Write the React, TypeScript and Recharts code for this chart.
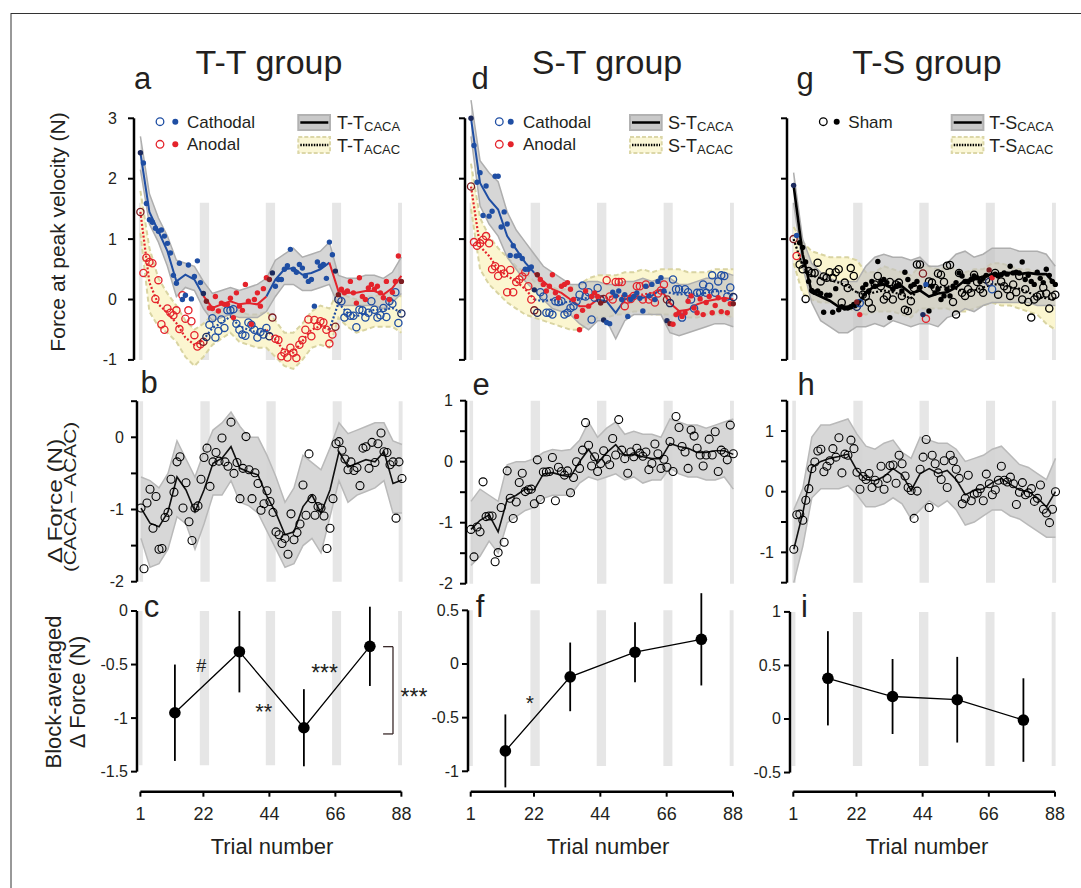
import React from 'react';
import { ComposedChart, Scatter, Line, Area, XAxis, YAxis, ReferenceArea, ReferenceLine, ErrorBar } from 'recharts';

const FONT = 'Arial, "Liberation Sans", Helvetica, sans-serif';

// trial grid
const trials = Array.from({ length: 88 }, (_, i) => i + 1);
const sampleTrials = [1, 4, 7, 10, 13, 16, 19, 22, 25, 28, 31, 34, 37, 40, 43, 46, 49, 52, 55, 58, 61, 64, 67, 70, 73, 76, 79, 82, 85, 88];
const restBars = [[0.5, 1.7], [20.8, 23.9], [42.8, 45.9], [64.9, 67.9], [86.9, 88.2]];
const segBounds = [1, 22, 43, 64, 88];
const darkTrials = [1, 22, 23, 44, 45, 66, 67, 88];
const shamColorTrials = [1, 2, 22, 23, 44, 45, 66, 67];
const xTicks = [1, 22, 44, 66, 88];
const blockTrials = [12.5, 34, 55.5, 77.5];

// ---- panel a (T-T) ----
const ttCacaPts = [
  2.43, 2.26, 1.59, 1.32, 1.28, 1.18, 1.13, 1.15, 1.05, 0.93, 0.77, 0.40, 0.27, 0.60, 0.00, 0.07, 0.57, 0.01, 0.38, 0.64, 0.28, 0.10,
  -0.03, -0.14, -0.15, 0.05, -0.19, -0.06, -0.08, -0.08, 0.02, -0.30, 0.11, -0.11, -0.18, 0.25, -0.03, -0.41, 0.00, 0.11, -0.11, 0.18, 0.36, 0.33,
  0.44, 0.22, 0.33, 0.33, 0.50, 0.56, 0.83, 0.50, 0.45, 0.58, 0.52, 0.39, 0.30, 0.33, -0.11, 0.62, 0.55, 0.58, 0.35, 0.95, 0.74, 0.47,
  0.08, 0.17, 0.11, 0.14, 0.30, 0.11, -0.06, 0.36, 0.05, 0.00, 0.19, 0.25, 0.17, 0.22, 0.11, 0.03, 0.30, 0.00, 0.12, 0.30, 0.72, 0.30,
];
const ttAcacPts = [
  1.45, 0.44, 0.69, 0.62, 0.60, 0.01, 0.32, -0.41, -0.50, -0.15, -0.22, -0.26, -0.18, -0.49, 0.07, -0.32, -0.18, -0.36, -0.59, -0.78, -0.74, -0.70,
  -0.62, -0.42, -0.31, -0.63, -0.52, -0.33, -0.47, -0.18, -0.18, -0.16, -0.40, -0.50, -0.58, -0.60, -0.38, -0.42, -0.50, -0.63, -0.54, -0.58, -0.47, -0.61,
  -0.30, -0.65, -0.67, -0.94, -0.88, -0.96, -0.80, -0.88, -0.97, -0.75, -0.67, -0.50, -0.33, -0.61, -0.34, -0.44, -0.36, -0.38, -0.50, -0.73, -0.58, -0.45,
  0.00, -0.03, -0.30, -0.22, -0.27, -0.27, -0.46, -0.17, -0.18, -0.30, -0.22, -0.03, -0.17, -0.30, -0.26, -0.14, -0.29, -0.03, -0.07, 0.12, -0.39, -0.23,
];
const ttCacaLine = [2.43, 1.45, 1.13, 0.80, 0.30, 0.41, 0.33, 0.06, -0.14, -0.08, -0.03, -0.08, -0.06, -0.08, 0.05, 0.33, 0.50, 0.52, 0.41, 0.44, 0.50, 0.61, 0.14, 0.11, 0.11, 0.14, 0.14, 0.08, 0.19, 0.39];
const ttAcacLine = [1.45, 0.28, -0.08, -0.22, -0.39, -0.63, -0.75, -0.67, -0.47, -0.39, -0.28, -0.44, -0.50, -0.55, -0.50, -0.66, -0.86, -0.88, -0.69, -0.50, -0.44, -0.50, -0.06, -0.22, -0.28, -0.22, -0.17, -0.17, -0.14, -0.22];
const ttCacaHi = [2.70, 1.75, 1.35, 1.05, 0.65, 0.60, 0.55, 0.30, 0.10, 0.15, 0.20, 0.15, 0.20, 0.25, 0.35, 0.65, 0.75, 0.85, 0.70, 0.75, 0.80, 0.95, 0.40, 0.35, 0.35, 0.40, 0.40, 0.35, 0.45, 0.70];
const ttCacaLo = [2.15, 1.25, 0.95, 0.55, 0.05, 0.20, 0.15, -0.15, -0.35, -0.30, -0.25, -0.30, -0.30, -0.30, -0.20, 0.05, 0.25, 0.25, 0.15, 0.15, 0.20, 0.25, -0.10, -0.10, -0.10, -0.10, -0.10, -0.15, -0.05, 0.10];
const ttAcacHi = [1.80, 0.85, 0.35, 0.10, -0.10, -0.35, -0.50, -0.40, -0.25, -0.15, -0.05, -0.20, -0.25, -0.25, -0.20, -0.35, -0.55, -0.55, -0.40, -0.20, -0.10, -0.15, 0.15, 0.05, 0.00, 0.05, 0.05, 0.10, 0.10, 0.05];
const ttAcacLo = [1.10, -0.20, -0.45, -0.55, -0.70, -0.95, -1.10, -0.95, -0.75, -0.65, -0.55, -0.70, -0.75, -0.80, -0.80, -0.95, -1.10, -1.15, -1.00, -0.80, -0.75, -0.80, -0.30, -0.45, -0.55, -0.50, -0.45, -0.45, -0.45, -0.55];

// ---- panel d (S-T) ----
const stCacaPts = [
  3.00, 2.55, 1.94, 2.10, 1.39, 1.88, 1.38, 1.46, 2.04, 2.04, 1.20, 1.45, 1.25, 0.73, 0.89, 0.72, 0.73, 0.68, 0.50, 0.50, 0.54, 0.16,
  0.41, 0.33, 0.25, 0.14, 0.22, 0.41, 0.11, 0.03, 0.22, 0.25, 0.28, 0.17, 0.00, -0.28, -0.50, -0.18, 0.14, -0.11, 0.05, 0.11, 0.05, -0.06,
  -0.34, -0.38, -0.40, 0.12, 0.06, 0.14, 0.00, 0.08, -0.28, 0.00, 0.05, 0.11, 0.02, -0.19, 0.22, 0.06, 0.25, 0.00, 0.30, 0.36, 0.14, -0.35,
  -0.40, -0.41, -0.25, -0.22, -0.28, -0.22, -0.03, 0.06, -0.14, -0.22, 0.01, -0.25, -0.05, 0.05, -0.22, -0.10, 0.03, -0.20, 0.00, -0.22, -0.07, -0.07,
];
const stAcacPts = [
  1.87, 0.95, 0.89, 0.93, 0.99, 1.05, 0.93, 0.50, 0.55, 0.39, 0.50, 0.43, 0.12, 0.49, 0.12, 0.29, 0.33, 0.38, 0.45, 0.22, 0.00, -0.18,
  -0.22, 0.12, 0.05, -0.22, -0.22, -0.25, -0.03, -0.04, -0.03, -0.25, -0.22, -0.14, -0.11, -0.03, 0.08, 0.23, 0.05, 0.12, -0.33, 0.03, 0.19, 0.00,
  0.01, 0.32, 0.05, 0.00, 0.29, 0.29, 0.29, -0.11, 0.00, 0.01, 0.06, 0.22, 0.22, 0.00, 0.25, 0.00, 0.05, -0.05, 0.10, 0.15, 0.25, 0.00,
  -0.06, 0.33, 0.17, 0.17, -0.30, 0.17, 0.12, 0.00, -0.15, 0.11, 0.11, 0.25, 0.11, 0.21, 0.40, 0.11, 0.30, 0.40, 0.39, 0.05, 0.20, 0.04,
];
const stCacaLine = [3.00, 1.93, 1.66, 1.49, 1.05, 0.83, 0.61, 0.44, 0.30, 0.17, 0.11, 0.00, -0.11, -0.11, 0.00, -0.03, -0.22, 0.00, 0.06, 0.03, 0.06, 0.17, -0.06, -0.19, -0.17, -0.08, -0.03, 0.00, 0.03, 0.00];
const stAcacLine = [1.87, 0.88, 0.72, 0.50, 0.39, 0.30, 0.17, 0.00, -0.03, 0.00, -0.06, -0.03, 0.00, 0.03, 0.06, 0.03, 0.06, 0.06, 0.08, 0.08, 0.11, 0.14, 0.11, 0.08, 0.11, 0.08, 0.11, 0.14, 0.14, 0.06];
const stCacaHi = [3.30, 2.30, 2.10, 1.95, 1.45, 1.15, 0.95, 0.75, 0.55, 0.45, 0.35, 0.25, 0.25, 0.30, 0.30, 0.25, 0.25, 0.30, 0.30, 0.35, 0.30, 0.35, 0.35, 0.25, 0.25, 0.30, 0.35, 0.35, 0.45, 0.40];
const stCacaLo = [2.70, 1.55, 1.25, 1.05, 0.70, 0.50, 0.30, 0.15, 0.00, -0.15, -0.20, -0.25, -0.40, -0.50, -0.35, -0.35, -0.65, -0.35, -0.25, -0.25, -0.25, -0.25, -0.55, -0.60, -0.55, -0.50, -0.45, -0.40, -0.40, -0.45];
const stAcacHi = [2.25, 1.35, 1.05, 0.85, 0.70, 0.55, 0.45, 0.30, 0.25, 0.20, 0.15, 0.20, 0.25, 0.35, 0.40, 0.40, 0.40, 0.45, 0.45, 0.50, 0.45, 0.50, 0.50, 0.50, 0.45, 0.45, 0.45, 0.50, 0.50, 0.50];
const stAcacLo = [1.50, 0.50, 0.25, 0.10, -0.05, -0.15, -0.25, -0.30, -0.35, -0.40, -0.45, -0.50, -0.50, -0.40, -0.30, -0.30, -0.25, -0.25, -0.20, -0.20, -0.25, -0.25, -0.25, -0.30, -0.30, -0.30, -0.25, -0.25, -0.25, -0.30];

// ---- panel g (T-S) ----
const tsCacaPts = [
  1.89, 1.06, 0.94, 0.86, 0.62, 0.30, 0.15, 0.12, 0.14, 0.10, -0.21, 0.07, 0.07, -0.21, 0.18, -0.17, -0.12, -0.14, -0.14, -0.12, -0.08, -0.04,
  -0.25, 0.19, 0.25, 0.14, 0.30, 0.22, 0.63, 0.30, 0.33, 0.28, -0.30, 0.17, 0.22, 0.25, 0.14, 0.45, 0.33, 0.22, 0.25, 0.30, 0.20, -0.25,
  0.25, -0.19, 0.22, 0.11, 0.17, 0.00, 0.06, 0.17, 0.06, 0.22, 0.28, 0.44, 0.39, 0.30, 0.29, 0.33, 0.39, 0.36, 0.30, 0.35, 0.40, 0.49,
  0.36, 0.42, 0.39, 0.41, 0.44, 0.42, 0.55, 0.44, 0.45, 0.44, 0.62, 0.33, 0.40, 0.30, 0.25, 0.45, 0.35, 0.28, 0.50, 0.40, 0.30, 0.25,
];
const tsAcacPts = [
  1.00, 0.72, 0.58, 0.50, 0.01, 0.47, 0.44, 0.44, 0.61, 0.30, 0.38, 0.36, 0.45, 0.36, 0.45, 0.50, -0.05, 0.28, 0.19, 0.52, 0.39, -0.12,
  -0.06, 0.08, 0.05, -0.05, -0.15, 0.25, 0.39, 0.22, 0.00, 0.06, 0.29, 0.00, 0.25, 0.28, 0.06, -0.17, -0.19, -0.03, 0.19, 0.58, 0.58, 0.43,
  -0.32, 0.30, 0.28, 0.19, 0.43, 0.41, 0.29, 0.56, 0.57, -0.04, -0.25, 0.44, 0.11, 0.06, 0.17, 0.11, 0.41, 0.29, 0.17, 0.11, 0.33, 0.29,
  0.17, 0.44, 0.08, 0.30, 0.22, 0.17, 0.06, 0.25, 0.12, 0.39, 0.00, 0.17, -0.04, -0.30, 0.00, 0.05, 0.08, 0.20, 0.10, -0.15, 0.05, 0.08,
];
const tsCacaLine = [1.89, 0.75, 0.12, 0.05, -0.02, -0.12, -0.15, -0.12, 0.12, 0.22, 0.25, 0.18, 0.22, 0.10, 0.15, 0.05, 0.10, 0.12, 0.20, 0.32, 0.33, 0.38, 0.42, 0.42, 0.44, 0.42, 0.44, 0.42, 0.42, 0.25];
const tsAcacLine = [1.00, 0.55, 0.40, 0.35, 0.32, 0.28, 0.22, 0.12, 0.08, 0.12, 0.15, 0.12, 0.08, 0.02, 0.20, 0.22, 0.20, 0.22, 0.18, 0.12, 0.15, 0.20, 0.25, 0.25, 0.20, 0.18, 0.12, 0.05, 0.02, 0.00];
const tsCacaHi = [2.10, 1.00, 0.60, 0.45, 0.35, 0.30, 0.30, 0.30, 0.55, 0.70, 0.75, 0.70, 0.70, 0.65, 0.70, 0.55, 0.55, 0.60, 0.75, 0.80, 0.70, 0.75, 0.85, 0.85, 0.85, 0.80, 0.80, 0.80, 0.75, 0.55];
const tsCacaLo = [1.60, 0.55, -0.05, -0.35, -0.45, -0.55, -0.55, -0.45, -0.45, -0.40, -0.45, -0.35, -0.40, -0.45, -0.40, -0.40, -0.45, -0.30, -0.25, -0.15, -0.20, -0.10, -0.05, -0.05, -0.05, -0.05, -0.05, -0.10, -0.10, -0.10];
const tsAcacHi = [1.20, 0.95, 0.80, 0.75, 0.70, 0.70, 0.70, 0.65, 0.45, 0.45, 0.55, 0.50, 0.45, 0.40, 0.55, 0.55, 0.50, 0.55, 0.50, 0.45, 0.50, 0.50, 0.60, 0.60, 0.55, 0.50, 0.50, 0.45, 0.35, 0.30];
const tsAcacLo = [0.60, 0.10, 0.00, -0.05, -0.05, -0.10, -0.15, -0.20, -0.25, -0.20, -0.20, -0.20, -0.25, -0.30, -0.15, -0.15, -0.15, -0.15, -0.20, -0.20, -0.15, -0.10, -0.05, -0.10, -0.10, -0.15, -0.20, -0.25, -0.40, -0.50];

// ---- row b/e/h : delta force ----
const ttDeltaPts = [
  -0.98, -1.82, -0.91, -0.72, -1.26, -0.82, -1.55, -1.54, -1.11, -1.04,
  -0.58, -0.76, -0.34, -0.27, -0.98, -0.63, -1.17, -1.43, -0.98, -0.95,
  -0.58, -0.28, -0.15, -0.68, -0.34, -0.21, -0.33, -0.01, -0.34, -0.40,
  0.21, -0.50, -0.35, -0.85, -0.43, 0.01, -0.45, -0.85, -0.49, -0.64,
  -1.01, -0.92, -0.74, -0.89, -1.04, -1.31, -1.35, -1.47, -1.40, -1.62,
  -1.06, -1.42, -1.32, -1.20, -0.66, -1.08, -0.23, -0.85, -1.08, -0.96,
  -0.98, -1.09, -1.54, -1.26, -0.85, -0.09, -0.06, -0.18, -0.30, -0.45,
  -0.34, -0.46, -0.42, -0.67, -0.15, -0.13, -0.43, -0.07, -0.35, -0.09,
  0.06, -0.20, -0.21, -0.38, -0.34, -1.12, -0.34, -0.57,
];
const ttDeltaLine = [-0.98, -1.19, -1.24, -1.03, -0.55, -0.73, -1.03, -0.73, -0.36, -0.29, -0.13, -0.43, -0.48, -0.52, -0.82, -1.05, -1.35, -1.31, -0.96, -0.80, -1.05, -0.73, -0.20, -0.41, -0.36, -0.31, -0.34, -0.20, -0.64, -0.59];
const ttDeltaHi = [-0.55, -0.60, -0.70, -0.50, -0.05, -0.30, -0.55, -0.20, 0.10, 0.20, 0.35, 0.15, 0.00, 0.00, -0.25, -0.55, -0.90, -0.70, -0.25, -0.35, -0.45, -0.15, 0.20, 0.05, 0.10, 0.15, 0.20, 0.20, -0.05, -0.10];
const ttDeltaLo = [-1.40, -1.80, -1.75, -1.55, -1.10, -1.20, -1.55, -1.20, -0.80, -0.80, -0.60, -0.90, -0.95, -1.05, -1.30, -1.55, -1.80, -1.75, -1.50, -1.40, -1.60, -1.10, -0.60, -0.90, -0.80, -0.75, -0.70, -0.60, -1.05, -1.05];

const stDeltaPts = [
  -1.11, -1.56, -1.07, -1.15, -0.33, -0.90, -0.89, -0.89, -1.64, -1.49,
  -0.75, -1.32, -0.15, -0.60, -0.93, -0.66, -0.34, -0.19, -0.49, -0.46,
  -0.45, -0.69, 0.03, -0.62, -0.17, -0.17, -0.16, 0.07, -0.64, -0.09,
  -0.16, -0.22, -0.15, -0.51, -0.26, 0.00, -0.11, 0.19, 0.64, 0.27,
  -0.07, 0.08, -0.16, -0.03, 0.18, 0.04, -0.05, 0.38, 0.11, 0.69,
  0.19, 0.05, -0.19, 0.16, 0.08, 0.22, 0.14, 0.09, 0.16, -0.13,
  -0.03, 0.29, 0.13, -0.11, 0.04, -0.09, 0.33, -0.16, 0.74, 0.56,
  0.25, 0.16, -0.11, 0.52, 0.42, 0.22, 0.11, -0.07, 0.11, 0.37,
  0.11, 0.49, -0.16, 0.19, 0.15, 0.03, 0.60, 0.13,
];
const stDeltaLine = [-1.11, -0.96, -0.87, -1.15, -0.62, -0.55, -0.45, -0.46, -0.20, -0.18, -0.22, -0.25, 0.00, 0.20, -0.02, 0.15, 0.28, 0.10, 0.12, 0.08, 0.05, 0.05, 0.30, 0.25, 0.22, 0.15, 0.15, 0.18, 0.18, 0.12];
const stDeltaHi = [-0.65, -0.45, -0.55, -0.65, -0.05, 0.00, 0.00, 0.05, 0.15, 0.20, 0.18, 0.20, 0.35, 0.65, 0.40, 0.55, 0.65, 0.45, 0.50, 0.45, 0.45, 0.40, 0.70, 0.65, 0.60, 0.60, 0.55, 0.60, 0.65, 0.70];
const stDeltaLo = [-1.70, -1.55, -1.30, -1.50, -1.00, -0.90, -0.80, -0.75, -0.60, -0.55, -0.55, -0.55, -0.35, -0.25, -0.30, -0.25, -0.20, -0.30, -0.25, -0.35, -0.30, -0.30, -0.10, -0.20, -0.25, -0.25, -0.30, -0.30, -0.25, -0.45];

const tsDeltaPts = [
  -0.95, -0.38, -0.37, -0.47, -0.14, 0.05, 0.38, 0.49, 0.67, 0.70,
  0.33, 0.42, 0.51, 0.71, 0.57, 0.89, 0.31, 0.62, 0.60, 0.85,
  0.71, 0.32, 0.04, 0.25, 0.20, 0.30, 0.07, 0.19, 0.14, 0.42,
  0.04, 0.22, 0.43, 0.44, 0.14, 0.60, 0.46, 0.26, 0.07, 0.02,
  -0.44, 0.01, 0.37, 0.57, 0.86, -0.26, 0.60, 0.46, 0.31, 0.20,
  0.51, 0.07, 0.60, 0.51, 0.37, 0.22, -0.20, -0.11, 0.27, -0.15,
  -0.04, -0.02, 0.05, -0.15, 0.29, 0.13, -0.05, 0.03, 0.19, 0.42,
  0.19, 0.16, 0.24, 0.13, -0.21, -0.01, 0.15, -0.05, -0.02, 0.05,
  -0.16, -0.11, 0.11, -0.29, -0.35, -0.51, -0.29, 0.00,
];
const tsDeltaLine = [-0.95, -0.35, 0.40, 0.50, 0.55, 0.58, 0.62, 0.35, 0.20, 0.18, 0.25, 0.38, 0.28, 0.02, 0.30, 0.38, 0.30, 0.35, 0.20, -0.05, 0.02, 0.05, 0.15, 0.22, 0.12, 0.03, 0.00, -0.10, -0.25, 0.00];
const tsDeltaHi = [-0.30, 0.05, 0.90, 1.10, 1.10, 1.15, 1.20, 0.95, 0.75, 0.70, 0.80, 0.85, 0.65, 0.55, 0.90, 0.85, 0.80, 0.80, 0.70, 0.50, 0.55, 0.60, 0.70, 0.75, 0.60, 0.45, 0.40, 0.30, 0.20, 0.55];
const tsDeltaLo = [-1.50, -0.90, -0.10, 0.05, 0.05, 0.05, 0.10, -0.05, -0.25, -0.25, -0.20, -0.10, -0.20, -0.45, -0.30, -0.15, -0.25, -0.15, -0.30, -0.55, -0.50, -0.40, -0.30, -0.30, -0.40, -0.45, -0.55, -0.65, -0.75, -0.75];

// ---- row c/f/i : block averages ----
const ttBlockMean = [-0.95, -0.38, -1.09, -0.33];
const ttBlockErr = [0.45, 0.38, 0.36, 0.37];
const stBlockMean = [-0.81, -0.12, 0.11, 0.23];
const stBlockErr = [0.34, 0.32, 0.28, 0.43];
const tsBlockMean = [0.38, 0.21, 0.18, -0.01];
const tsBlockErr = [0.44, 0.35, 0.40, 0.39];

// colours
const BLUE = '#1f4ea3';
const RED = '#e4232b';
const NAVY = '#1c2a5e';
const MAROON = '#7d1d22';
const INK = '#231f20';
const TICK_FS = 16;

const blockOf = (t: number) => Math.min(3, Math.floor((t - 1) / 22));
const stimColor = (group: string) => (t: number) => {
  const b = blockOf(t);
  const cath = group === 'caca' ? b % 2 === 0 : b % 2 === 1;
  const dark = darkTrials.includes(t);
  return cath ? (dark ? NAVY : BLUE) : (dark ? MAROON : RED);
};
const shamColor = (group: string) => (t: number) => {
  const idx = shamColorTrials.indexOf(t);
  if (idx < 0) return '#000';
  const pair = Math.floor(idx / 2);
  const cath = group === 'caca' ? pair % 2 === 0 : pair % 2 === 1;
  const dark = idx % 2 === 0;
  return cath ? (dark ? NAVY : BLUE) : (dark ? MAROON : RED);
};
const segColor = (group: string, b: number) => {
  const cath = group === 'caca' ? b % 2 === 0 : b % 2 === 1;
  return cath ? BLUE : RED;
};

const toPts = (vals: number[], colorOf: (t: number) => string) => vals.map((v, i) => ({ t: trials[i], v, c: colorOf(trials[i]) }));
const toLine = (vals: number[]) => vals.map((v, i) => ({ t: sampleTrials[i], v }));
const toBand = (lo: number[], hi: number[]) => lo.map((l, i) => ({ t: sampleTrials[i], band: [l, hi[i]] }));
const segment = (line: { t: number; v: number }[], b: number) => line.filter((p) => p.t >= segBounds[b] && p.t <= segBounds[b + 1]);
const toBlocks = (mean: number[], err: number[]) => mean.map((v, i) => ({ t: blockTrials[i], v, err: err[i] }));

const openDot = (r: number, sw: number) => (p: any) => (
  <circle cx={p.cx} cy={p.cy} r={r} fill="none" stroke={p.payload.c || '#000'} strokeWidth={sw} />
);
const fillDot = (r: number) => (p: any) => <circle cx={p.cx} cy={p.cy} r={r} fill={p.payload.c || '#000'} />;
const annText = (p: any) => (
  <text x={p.cx} y={p.cy} textAnchor="middle" dominantBaseline="central" fontSize={p.payload.size} fontFamily={FONT} fill={INK}>
    {p.payload.txt}
  </text>
);

const xTick = (p: any) => (
  <text x={p.x} y={p.y} textAnchor="middle" dominantBaseline="hanging" style={{ fontSize: '18px', fontFamily: FONT }} fill={INK}>
    {p.payload.value}
  </text>
);
const yTick = (fmt: (v: number) => string) => (p: any) => (
  <text x={p.x} y={p.y} textAnchor="end" dominantBaseline="central" style={{ fontSize: `${TICK_FS}px`, fontFamily: FONT }} fill={INK}>
    {fmt(p.payload.value)}
  </text>
);

const COLS = [
  { c0: 140.7, s: 3.0 },
  { c0: 471.0, s: 3.015 },
  { c0: 793.3, s: 3.008 },
];

const YW = 50;
const XH = 38;

type Geom = { axisX: number; right: number; top: number; bottom: number; vRef: number; pRef: number; k: number; c0: number; s: number; gap: number };

const intFmt = (v: number) => (Number.isInteger(v) ? String(v) : '');
const allFmt = (v: number) => String(v);
const noFmt = () => '';

function Panel({ g, yTicks, yFmt, axis, bars, showX, children }: any) {
  const geo: Geom = g;
  const xDom = [1 + (geo.axisX - geo.c0) / geo.s, 1 + (geo.right - geo.c0) / geo.s];
  const yDom = [geo.vRef - (geo.bottom - geo.pRef) / geo.k, geo.vRef + (geo.pRef - geo.top) / geo.k];
  const xh = showX ? XH : 0;
  const width = YW + geo.right - geo.axisX;
  const height = geo.bottom - geo.top + xh;
  return (
    <div style={{ position: 'absolute', left: geo.axisX - YW, top: geo.top }}>
      <ComposedChart width={width} height={height} margin={{ top: 0, right: 0, bottom: 0, left: 0 }}>
        <XAxis
          type="number"
          dataKey="t"
          domain={xDom}
          allowDataOverflow
          hide={!showX}
          ticks={xTicks}
          interval={0}
          axisLine={false}
          tickLine={{ stroke: '#000', strokeWidth: 2 }}
          tickSize={5}
          tickMargin={11}
          height={xh}
          tick={xTick}
        />
        <YAxis
          type="number"
          domain={yDom}
          allowDataOverflow
          ticks={yTicks}
          interval={0}
          axisLine={false}
          tickLine={{ stroke: '#000', strokeWidth: 2 }}
          tickSize={6}
          tickMargin={geo.gap}
          width={YW}
          tick={yTick(yFmt)}
        />
        {restBars.map(([a, b], i) => (
          <ReferenceArea key={'rb' + i} x1={a} x2={b} y1={bars[0]} y2={bars[1]} fill="#e6e6e6" fillOpacity={1} stroke="none" ifOverflow="hidden" />
        ))}
        {children}
        <ReferenceLine segment={[{ x: xDom[0], y: axis[0] }, { x: xDom[0], y: axis[1] }]} stroke="#000" strokeWidth={2.5} ifOverflow="visible" />
        {showX && (
          <ReferenceLine segment={[{ x: 1, y: yDom[0] }, { x: 88, y: yDom[0] }]} stroke="#000" strokeWidth={2.5} ifOverflow="visible" />
        )}
      </ComposedChart>
    </div>
  );
}

function forcePanel(key: string, g: any, showLabels: boolean, d: any, sham: boolean) {
  const cacaLine = toLine(d.cacaLine);
  const acacLine = toLine(d.acacLine);
  const colorCaca = sham ? shamColor('caca') : stimColor('caca');
  const colorAcac = sham ? shamColor('acac') : stimColor('acac');
  return (
    <Panel key={key} g={g} yTicks={[-1, 0, 1, 2, 3]} yFmt={showLabels ? allFmt : noFmt} axis={[-1, 3]} bars={[-1, 1.6]} showX={false}>
      <Area data={toBand(d.acacLo, d.acacHi)} dataKey="band" type="linear" fill="#fbf6d0" fillOpacity={1} stroke="#d9d4a2" strokeWidth={2} strokeDasharray="5 3" isAnimationActive={false} />
      <Area data={toBand(d.cacaLo, d.cacaHi)} dataKey="band" type="linear" fill="#c2c2c2" fillOpacity={0.68} stroke="#aeaeae" strokeWidth={1.5} isAnimationActive={false} />
      <Scatter data={toPts(d.acacPts, colorAcac)} dataKey="v" shape={openDot(3.6, 1.3)} isAnimationActive={false} />
      <Scatter data={toPts(d.cacaPts, colorCaca)} dataKey="v" shape={fillDot(2.7)} isAnimationActive={false} />
      {[0, 1, 2, 3].map((b) => (
        <Line key={'ac' + b} data={segment(acacLine, b)} dataKey="v" type="linear" stroke={sham ? '#000' : segColor('acac', b)} strokeWidth={2.2} strokeDasharray="2 2" dot={false} isAnimationActive={false} />
      ))}
      {[0, 1, 2, 3].map((b) => (
        <Line key={'ca' + b} data={segment(cacaLine, b)} dataKey="v" type="linear" stroke={sham ? '#000' : segColor('caca', b)} strokeWidth={sham ? 2.6 : 2} dot={false} isAnimationActive={false} />
      ))}
    </Panel>
  );
}

function deltaPanel(key: string, g: any, yTicks: number[], axis: number[], pts: number[], line: number[], lo: number[], hi: number[]) {
  return (
    <Panel key={key} g={g} yTicks={yTicks} yFmt={intFmt} axis={axis} bars={axis} showX={false}>
      <Area data={toBand(lo, hi)} dataKey="band" type="linear" fill="#d3d3d3" fillOpacity={0.9} stroke="#b9b9b9" strokeWidth={1.5} isAnimationActive={false} />
      <Line data={toLine(line)} dataKey="v" type="linear" stroke="#111" strokeWidth={1.6} dot={false} isAnimationActive={false} />
      <Scatter data={toPts(pts, () => '#000')} dataKey="v" shape={openDot(4, 1.1)} isAnimationActive={false} />
    </Panel>
  );
}

function blockPanel(key: string, g: any, yTicks: number[], axis: number[], bars: number[], mean: number[], err: number[], extra?: any) {
  return (
    <Panel key={key} g={g} yTicks={yTicks} yFmt={allFmt} axis={axis} bars={bars} showX>
      <Line data={toBlocks(mean, err)} dataKey="v" type="linear" stroke="#000" strokeWidth={1.3} dot={{ r: 5.8, fill: '#000', stroke: '#000', strokeWidth: 0 }} isAnimationActive={false}>
        <ErrorBar dataKey="err" width={0} stroke="#000" strokeWidth={1.8} direction="y" />
      </Line>
      {extra}
    </Panel>
  );
}

// annotation content (text at data positions)
const ttNotes = [
  { t: 21.3, v: -0.51, txt: '#', size: 18 },
  { t: 42.1, v: -0.94, txt: '**', size: 22 },
  { t: 62.4, v: -0.58, txt: '***', size: 23 },
  { t: 92.2, v: -0.8, txt: '***', size: 23 },
];
const stNotes = [{ t: 20.6, v: -0.36, txt: '*', size: 21 }];

function Legend({ x0, circ, rectX, textX, label, colors, sub }: any) {
  return (
    <g fontFamily={FONT} fill={INK}>
      {colors.map((c: string, i: number) => {
        const y = 121.7 + i * 22.6;
        return (
          <g key={i}>
            <circle cx={circ[0]} cy={y} r={3.8} fill="none" stroke={c} strokeWidth={1.3} />
            <circle cx={circ[1]} cy={y} r={3} fill={c} />
            <text x={x0} y={y + 6} fontSize={17}>{label[i]}</text>
          </g>
        );
      })}
      <rect x={rectX} y={115} width={31.7} height={15} fill="#c9c9c9" stroke="#b2b2b2" strokeWidth={2} />
      <line x1={rectX + 2} x2={rectX + 30} y1={122.5} y2={122.5} stroke="#000" strokeWidth={2.5} />
      <rect x={rectX} y={137} width={31.7} height={16} fill="#fbf7d6" stroke="#dcd7a8" strokeWidth={2} strokeDasharray="4 2" />
      <line x1={rectX + 2} x2={rectX + 30} y1={145} y2={145} stroke="#000" strokeWidth={2.5} strokeDasharray="1.5 1.2" />
      <text x={textX} y={129} fontSize={18}>
        {sub}
        <tspan fontSize={13} dy={2}>CACA</tspan>
      </text>
      <text x={textX} y={152} fontSize={18}>
        {sub}
        <tspan fontSize={13} dy={2}>ACAC</tspan>
      </text>
    </g>
  );
}

export default function App() {
  const rowA = [
    { axisX: 134.3, right: 410, ...COLS[0] },
    { axisX: 465, right: 740, ...COLS[1] },
    { axisX: 786.7, right: 1062, ...COLS[2] },
  ].map((c) => ({ ...c, top: 92, bottom: 378, vRef: 3, pRef: 118.3, k: 60.4, gap: 11 }));

  const gB = { axisX: 136.7, right: 410, top: 392, bottom: 592, vRef: 0, pRef: 437.3, k: 72.2, gap: 7, ...COLS[0] };
  const gE = { axisX: 466, right: 740, top: 392, bottom: 592, vRef: 0, pRef: 461.7, k: 61, gap: 7, ...COLS[1] };
  const gH = { axisX: 786.5, right: 1062, top: 392, bottom: 592, vRef: 0, pRef: 491.7, k: 60.65, gap: 7, ...COLS[2] };

  const gC = { axisX: 137.3, right: 432, top: 590, bottom: 791.7, vRef: 0, pRef: 611, k: 107.1, gap: 3, ...COLS[0] };
  const gF = { axisX: 468.3, right: 752, top: 590, bottom: 791.7, vRef: 0, pRef: 664, k: 107.3, gap: 3, ...COLS[1] };
  const gI = { axisX: 790, right: 1075, top: 590, bottom: 791.7, vRef: 0, pRef: 719, k: 107.1, gap: 3, ...COLS[2] };

  const ttNoteEls = [
    <Scatter key="ttn" data={ttNotes} dataKey="v" shape={annText} isAnimationActive={false} />,
    <ReferenceLine key="br1" segment={[{ x: 81.9, y: -0.333 }, { x: 85.2, y: -0.333 }]} stroke="#3a2a2a" strokeWidth={1.3} ifOverflow="visible" />,
    <ReferenceLine key="br2" segment={[{ x: 85.2, y: -0.333 }, { x: 85.2, y: -1.148 }]} stroke="#3a2a2a" strokeWidth={1.3} ifOverflow="visible" />,
    <ReferenceLine key="br3" segment={[{ x: 81.9, y: -1.148 }, { x: 85.2, y: -1.148 }]} stroke="#3a2a2a" strokeWidth={1.3} ifOverflow="visible" />,
  ];
  const stNoteEls = [<Scatter key="stn" data={stNotes} dataKey="v" shape={annText} isAnimationActive={false} />];

  return (
    <div style={{ position: 'absolute', left: 0, top: 0, width: 1081, height: 888, background: '#fff', fontFamily: FONT }}>
      {forcePanel('a', rowA[0], true, { cacaPts: ttCacaPts, acacPts: ttAcacPts, cacaLine: ttCacaLine, acacLine: ttAcacLine, cacaHi: ttCacaHi, cacaLo: ttCacaLo, acacHi: ttAcacHi, acacLo: ttAcacLo }, false)}
      {forcePanel('d', rowA[1], false, { cacaPts: stCacaPts, acacPts: stAcacPts, cacaLine: stCacaLine, acacLine: stAcacLine, cacaHi: stCacaHi, cacaLo: stCacaLo, acacHi: stAcacHi, acacLo: stAcacLo }, false)}
      {forcePanel('g', rowA[2], false, { cacaPts: tsCacaPts, acacPts: tsAcacPts, cacaLine: tsCacaLine, acacLine: tsAcacLine, cacaHi: tsCacaHi, cacaLo: tsCacaLo, acacHi: tsAcacHi, acacLo: tsAcacLo }, true)}

      {deltaPanel('b', gB, [-2, -1.5, -1, -0.5, 0, 0.5], [-2, 0.5], ttDeltaPts, ttDeltaLine, ttDeltaLo, ttDeltaHi)}
      {deltaPanel('e', gE, [-2, -1.5, -1, -0.5, 0, 0.5, 1], [-2, 1], stDeltaPts, stDeltaLine, stDeltaLo, stDeltaHi)}
      {deltaPanel('h', gH, [-1.5, -1, -0.5, 0, 0.5, 1, 1.5], [-1.5, 1.5], tsDeltaPts, tsDeltaLine, tsDeltaLo, tsDeltaHi)}

      {blockPanel('c', gC, [-1.5, -1, -0.5, 0], [-1.5, 0], [-1.44, 0], ttBlockMean, ttBlockErr, ttNoteEls)}
      {blockPanel('f', gF, [-1, -0.5, 0, 0.5], [-1, 0.5], [-0.95, 0.5], stBlockMean, stBlockErr, stNoteEls)}
      {blockPanel('i', gI, [-0.5, 0, 0.5, 1], [-0.5, 1], [-0.44, 1], tsBlockMean, tsBlockErr)}

      <svg width={1081} height={888} style={{ position: 'absolute', left: 0, top: 0, pointerEvents: 'none' }}>
        <line x1={11} x2={1081} y1={13.5} y2={13.5} stroke="#333" strokeWidth={1} />
        <line x1={11} x2={11} y1={13} y2={888} stroke="#333" strokeWidth={1} />
        <g fontFamily={FONT} fill={INK}>
          <text x={269} y={74} fontSize={34} textAnchor="middle">T-T group</text>
          <text x={607} y={74} fontSize={34} textAnchor="middle">S-T group</text>
          <text x={927} y={74} fontSize={34} textAnchor="middle">T-S group</text>

          <text x={142.5} y={89} fontSize={31} textAnchor="middle">a</text>
          <text x={480} y={89} fontSize={31} textAnchor="middle">d</text>
          <text x={805} y={89} fontSize={31} textAnchor="middle">g</text>
          <text x={149} y={393} fontSize={31} textAnchor="middle">b</text>
          <text x={481} y={395} fontSize={31} textAnchor="middle">e</text>
          <text x={806} y={395} fontSize={31} textAnchor="middle">h</text>
          <text x={151.5} y={617} fontSize={31} textAnchor="middle">c</text>
          <text x={480} y={617} fontSize={31} textAnchor="middle">f</text>
          <text x={804.5} y={617} fontSize={31} textAnchor="middle">i</text>

          <text transform="translate(57,232) rotate(-90)" fontSize={21} textAnchor="middle" dominantBaseline="central">Force at peak velocity (N)</text>
          <text transform="translate(55,501) rotate(-90) scale(1.22,1)" fontSize={20} textAnchor="middle" dominantBaseline="central">Δ Force (N)</text>
          <text transform="translate(70,497) rotate(-90) scale(1.3,1)" fontSize={16} textAnchor="middle" dominantBaseline="central">(CACA – ACAC)</text>
          <text transform="translate(53,692) rotate(-90)" fontSize={22} textAnchor="middle" dominantBaseline="central">Block-averaged</text>
          <text transform="translate(77,692) rotate(-90)" fontSize={22} textAnchor="middle" dominantBaseline="central">Δ Force (N)</text>

          <text x={272} y={854} fontSize={22} textAnchor="middle">Trial number</text>
          <text x={608} y={854} fontSize={22} textAnchor="middle">Trial number</text>
          <text x={927} y={854} fontSize={22} textAnchor="middle">Trial number</text>
        </g>
        <Legend x0={187} circ={[160, 175.3]} rectX={298.3} textX={337} label={['Cathodal', 'Anodal']} colors={[BLUE, RED]} sub="T-T" />
        <Legend x0={523} circ={[499.3, 510.7]} rectX={630} textX={668} label={['Cathodal', 'Anodal']} colors={[BLUE, RED]} sub="S-T" />
        <Legend x0={848.3} circ={[823.3, 836.7]} rectX={951.7} textX={989.3} label={['Sham']} colors={['#000']} sub="T-S" />
      </svg>
    </div>
  );
}
